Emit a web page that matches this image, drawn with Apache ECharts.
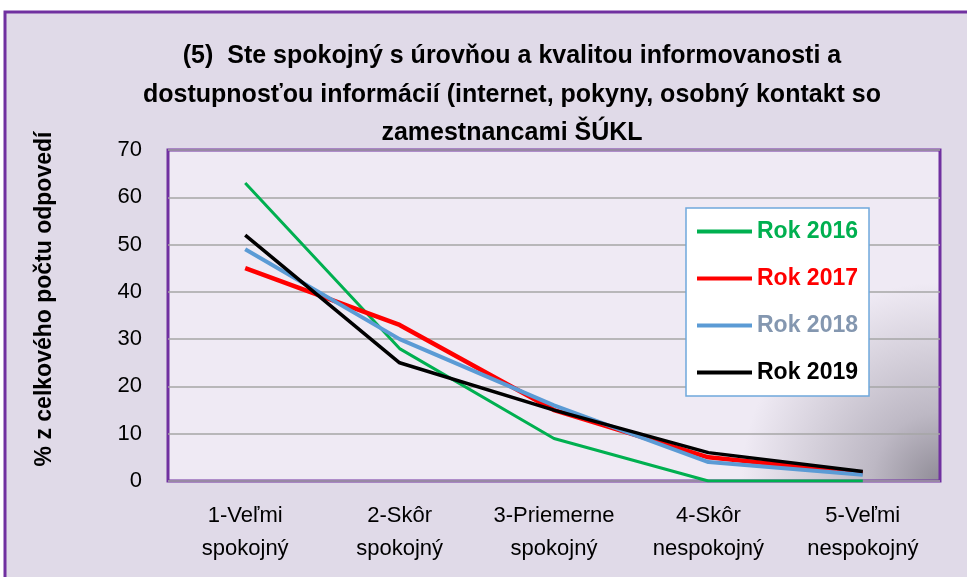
<!DOCTYPE html>
<html>
<head>
<meta charset="utf-8">
<script src="https://cdn.jsdelivr.net/npm/echarts@6/dist/echarts.min.js"></script>
<style>
  html, body { margin: 0; padding: 0; background: #fff; }
  #chart { width: 967px; height: 577px; }
</style>
</head>
<body>
<div id="chart"></div>
<script>
// dáta prečítané z grafu
var kategorie = ['1-Veľmi\nspokojný', '2-Skôr\nspokojný', '3-Priemerne\nspokojný', '4-Skôr\nnespokojný', '5-Veľmi\nnespokojný'];
var rok2016 = [63, 28, 9, 0, 0];
var rok2017 = [45, 33, 15, 5, 1.7];
var rok2018 = [49, 30, 16, 4, 1.3];
var rok2019 = [52, 25, 15, 6, 2];

var pismo = 'Liberation Sans';

var myChart = echarts.init(document.getElementById('chart'));

function seria(meno, data, farba, hrubka) {
    return {
        name: meno,
        type: 'line',
        data: data,
        symbol: 'none',
        lineStyle: { color: farba, width: hrubka },
        itemStyle: { color: farba }
    };
}

var option = {
    backgroundColor: '#fff',
    animation: false,
    graphic: [{
        type: 'rect',
        shape: { x: 5, y: 12, width: 975, height: 580 },
        style: { fill: '#E0DAE8', stroke: '#7030A0', lineWidth: 3 },
        z: -10
    }, {
        // popis osi y
        type: 'text',
        x: 45,
        y: 299,
        rotation: Math.PI / 2,
        style: {
            text: '% z celkového počtu odpovedí',
            fontFamily: pismo,
            fontSize: 23,
            fontWeight: 'bold',
            fill: '#000',
            align: 'center',
            verticalAlign: 'middle'
        }
    }],
    title: {
        text: '(5)  Ste spokojný s úrovňou a kvalitou informovanosti a\ndostupnosťou informácií (internet, pokyny, osobný kontakt so\nzamestnancami ŠÚKL',
        left: 507,
        textAlign: 'center',
        top: 32,
        textStyle: {
            fontFamily: pismo,
            fontSize: 25,
            fontWeight: 'bold',
            color: '#000',
            lineHeight: 38.5
        }
    },
    legend: {
        orient: 'vertical',
        left: 686,
        top: 208,
        padding: [10, 11, 10, 11],
        itemGap: 20,
        itemWidth: 55,
        itemHeight: 4,
        backgroundColor: '#fff',
        borderColor: '#6FA8DC',
        borderWidth: 1.5,
        icon: 'rect',
        textStyle: { fontFamily: pismo, fontSize: 23, fontWeight: 'bold', lineHeight: 27 },
        data: [
            { name: 'Rok 2016', textStyle: { color: '#00B050' } },
            { name: 'Rok 2017', textStyle: { color: '#FF0000' } },
            { name: 'Rok 2018', textStyle: { color: '#8497B0' } },
            { name: 'Rok 2019', textStyle: { color: '#000' } }
        ]
    },
    grid: {
        left: 168,
        right: 27,
        top: 150,
        bottom: 96,
        show: true,
        borderColor: '#7030A0',
        borderWidth: 3,
        backgroundColor: {
            type: 'radial', x: 1, y: 1, r: 0.6,
            colorStops: [
                { offset: 0, color: '#8F8B96' },
                { offset: 0.35, color: '#BDB8C4' },
                { offset: 1, color: '#EFEAF4' }
            ]
        }
    },
    xAxis: {
        type: 'category',
        data: kategorie,
        boundaryGap: true,
        axisLine: { show: false },
        axisTick: { show: false },
        axisLabel: {
            interval: 0,
            fontFamily: pismo,
            fontSize: 22,
            color: '#000',
            lineHeight: 33,
            margin: 18
        }
    },
    yAxis: {
        type: 'value',
        min: 0,
        max: 70,
        interval: 10,
        axisLine: { show: false },
        axisTick: { show: false },
        axisLabel: { fontFamily: pismo, fontSize: 22, color: '#000', margin: 26 },
        splitLine: { lineStyle: { color: '#A6A6A6', width: 1.5 } }
    },
    series: [
        seria('Rok 2016', rok2016, '#00B050', 3),
        seria('Rok 2017', rok2017, '#FF0000', 4.5),
        seria('Rok 2018', rok2018, '#5B9BD5', 4),
        seria('Rok 2019', rok2019, '#000000', 3.5)
    ]
};

myChart.setOption(option);
</script>
</body>
</html>
